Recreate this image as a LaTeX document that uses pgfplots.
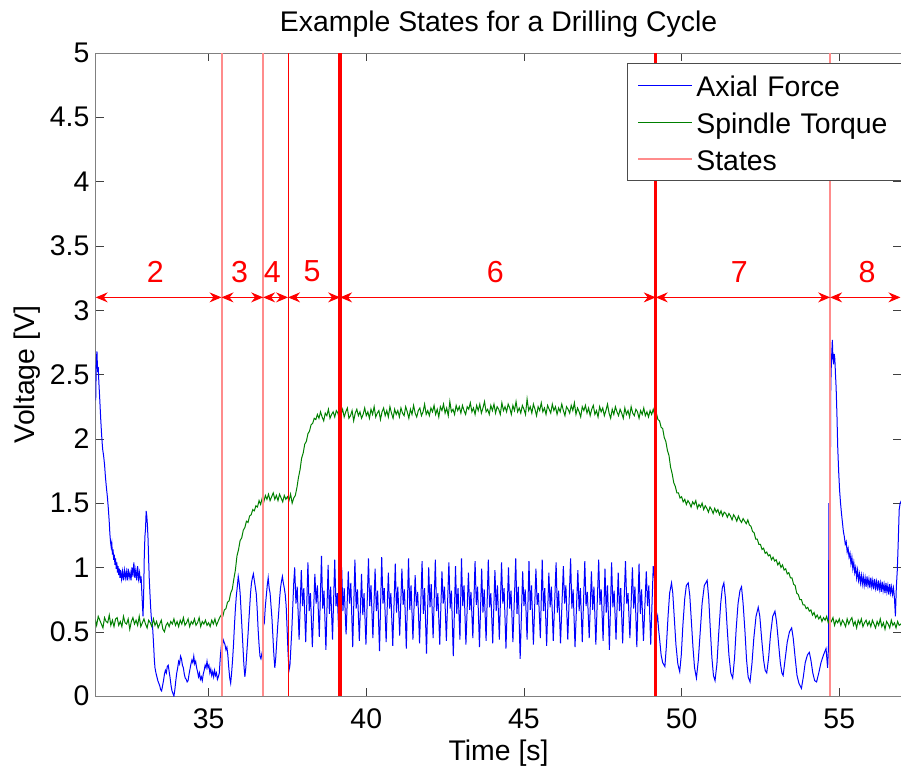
\documentclass[border=0pt]{standalone}
\usepackage{fontspec}
\setmainfont{Liberation Sans}
\usepackage{pgfplots}
\pgfplotsset{compat=1.18}
\usetikzlibrary{arrows.meta}
\definecolor{mgreen}{rgb}{0,0.5,0}
\definecolor{stpink}{rgb}{1,0.55,0.55}
\tikzset{myarr/.style={red, line width=0.5pt, {Stealth[length=6pt,width=5pt,inset=2pt]}-{Stealth[length=6pt,width=5pt,inset=2pt]}}}
\begin{document}
\begin{tikzpicture}[font=\fontsize{14.2}{17}\selectfont]
\path[use as bounding box] (-47.85pt,-36pt) rectangle (402.6pt,348pt);
\begin{axis}[
  scale only axis, width=402.8pt, height=321.5pt,
  xmin=31.42, xmax=56.97, ymin=0, ymax=5,
  xtick={35,40,45,50,55},
  ytick={0,0.5,1,1.5,2,2.5,3,3.5,4,4.5,5},
  tick align=inside, major tick length=4pt,
  axis line style={black!50}, tick style={black!75},
  /pgf/number format/assume math mode=true,
  tick label style={font=\fontsize{14.2}{17}\selectfont},
  xticklabel style={anchor=base, yshift=-16pt, inner sep=0pt},
  yticklabel style={anchor=east, inner sep=0pt, xshift=-3pt},
  title={Example States for a Drilling Cycle},
  title style={at={(axis description cs:0.5,1)}, anchor=base, yshift=4.7pt, inner sep=0pt},
  xlabel={Time [s]},
  xlabel style={at={(axis description cs:0.5,0)}, anchor=base, yshift=-32pt, inner sep=0pt},
  ylabel={Voltage [V]},
  ylabel style={at={(axis description cs:-0.085,0.5)}, anchor=center, inner sep=0pt},
  legend style={at={(rel axis cs:0.659,1)}, anchor=north west, yshift=-5.15pt,
    draw=black!70, fill=white, inner xsep=5.15pt, inner ysep=3.3pt, row sep=3pt,
    font=\fontsize{14.2}{17}\selectfont,
    nodes={inner ysep=0.5pt, inner xsep=1.5pt, text height=12.8pt, text depth=1.5pt, text width=112pt},
    cells={anchor=west}},
  legend image code/.code={\draw[#1] (0pt,0pt) -- (27pt,0pt);},
]
% Axial Force
\addplot[blue, line width=0.5pt] coordinates {
(31.42,2.30)(31.44,2.62)(31.46,2.68)(31.48,2.52)(31.50,2.56)(31.52,2.44)(31.55,2.30)(31.58,2.15)(31.61,2.02)(31.64,1.92)
(31.67,1.87)(31.70,1.80)(31.73,1.70)(31.76,1.62)(31.79,1.55)(31.82,1.46)(31.85,1.35)(31.87,1.26)(31.89,1.20)(31.91,1.16)
(31.93,1.19)(31.95,1.10)(31.97,1.14)(31.99,1.06)(32.01,1.10)(32.03,1.02)(32.05,1.07)(32.07,0.99)(32.09,1.04)(32.11,0.96)
(32.13,1.01)(32.15,0.94)(32.17,0.99)(32.19,0.92)(32.21,0.98)(32.24,0.91)(32.27,0.97)(32.30,0.90)(32.33,0.98)(32.36,0.92)
(32.39,0.97)(32.42,0.90)(32.45,0.99)(32.48,0.92)(32.51,0.96)(32.54,0.90)(32.57,1.00)(32.60,0.93)(32.63,1.04)(32.66,0.92)
(32.69,0.98)(32.72,0.90)(32.75,1.01)(32.78,0.91)(32.81,0.96)(32.84,0.88)(32.86,0.93)(32.88,0.82)(32.90,0.72)(32.92,0.62)
(32.94,0.78)(32.96,1.08)(32.98,1.24)(33.00,1.30)(33.02,1.44)(33.04,1.40)(33.06,1.33)(33.08,1.22)(33.10,1.05)(33.12,0.90)
(33.14,0.80)(33.16,0.70)(33.18,0.62)(33.20,0.58)(33.22,0.55)(33.24,0.47)(33.26,0.38)(33.28,0.28)(33.30,0.22)(33.33,0.18)
(33.36,0.15)(33.39,0.12)(33.42,0.10)(33.45,0.08)(33.48,0.05)(33.51,0.04)(33.54,0.08)(33.57,0.12)(33.60,0.17)(33.63,0.20)
(33.66,0.18)(33.69,0.23)(33.72,0.24)(33.75,0.19)(33.78,0.14)(33.81,0.08)(33.84,0.04)(33.87,0.02)(33.90,0.00)(33.93,0.05)
(33.96,0.12)(33.99,0.18)(34.02,0.22)(34.05,0.27)(34.08,0.25)(34.11,0.31)(34.14,0.29)(34.17,0.24)(34.20,0.22)(34.23,0.17)
(34.26,0.14)(34.29,0.13)(34.32,0.11)(34.35,0.12)(34.38,0.17)(34.41,0.21)(34.44,0.25)(34.47,0.28)(34.50,0.26)(34.53,0.31)
(34.56,0.25)(34.59,0.27)(34.62,0.22)(34.65,0.19)(34.68,0.15)(34.71,0.18)(34.74,0.13)(34.77,0.15)(34.80,0.12)(34.83,0.17)
(34.86,0.20)(34.89,0.24)(34.92,0.22)(34.95,0.27)(34.98,0.22)(35.01,0.24)(35.04,0.18)(35.07,0.21)(35.10,0.16)(35.13,0.19)
(35.16,0.15)(35.19,0.20)(35.22,0.16)(35.25,0.18)(35.28,0.13)(35.31,0.15)(35.34,0.18)(35.37,0.30)(35.40,0.38)(35.43,0.36)
(35.46,0.44)(35.49,0.42)(35.52,0.40)(35.55,0.36)(35.58,0.38)(35.61,0.32)(35.64,0.22)(35.67,0.14)(35.70,0.10)(35.73,0.18)
(35.76,0.28)(35.79,0.40)(35.82,0.55)(35.85,0.68)(35.88,0.78)(35.91,0.85)(35.94,0.93)(35.97,0.88)(36.00,0.80)(36.03,0.66)
(36.06,0.52)(36.09,0.38)(36.12,0.24)(36.15,0.15)(36.18,0.22)(36.21,0.33)(36.24,0.44)(36.27,0.56)(36.30,0.68)(36.33,0.80)
(36.36,0.88)(36.39,0.92)(36.42,0.95)(36.45,0.90)(36.48,0.85)(36.51,0.80)(36.54,0.68)(36.57,0.52)(36.60,0.40)(36.63,0.31)
(36.66,0.29)(36.69,0.33)(36.72,0.30)(36.74,0.62)(36.77,0.58)(36.80,0.70)(36.83,0.78)(36.86,0.86)(36.89,0.92)(36.92,0.84)
(36.95,0.80)(36.98,0.70)(37.01,0.60)(37.04,0.46)(37.07,0.32)(37.10,0.22)(37.13,0.30)(37.16,0.42)(37.19,0.54)(37.22,0.64)
(37.25,0.75)(37.28,0.84)(37.31,0.89)(37.34,0.93)(37.37,0.88)(37.40,0.84)(37.43,0.79)(37.46,0.70)(37.49,0.52)(37.52,0.33)
(37.55,0.20)(37.58,0.24)(37.61,0.38)(37.64,0.52)(37.67,0.70)(37.70,0.88)(37.73,1.00)(37.77,0.72)(37.81,0.85)(37.87,0.44)
(37.94,0.98)(37.98,0.70)(38.02,0.84)(38.08,0.42)(38.15,1.04)(38.19,0.66)(38.23,0.80)(38.29,0.38)
(38.37,0.95)(38.41,0.72)(38.45,0.86)(38.51,0.46)(38.58,1.09)(38.62,0.68)(38.66,0.82)(38.72,0.36)
(38.79,1.02)(38.83,0.64)(38.87,0.85)(38.93,0.44)(39.00,1.06)(39.04,0.70)(39.08,0.80)(39.14,0.40)
(39.22,1.00)(39.26,0.66)(39.30,0.84)(39.36,0.48)(39.43,0.97)(39.47,0.72)(39.51,0.88)(39.57,0.38)
(39.64,1.06)(39.68,0.68)(39.72,0.83)(39.78,0.43)(39.85,0.95)(39.89,0.63)(39.93,0.80)(39.99,0.40)
(40.07,1.07)(40.11,0.70)(40.15,0.86)(40.21,0.45)(40.28,0.99)(40.32,0.66)(40.36,0.82)(40.42,0.35)
(40.49,1.08)(40.53,0.72)(40.57,0.84)(40.63,0.42)(40.70,0.96)(40.74,0.68)(40.78,0.80)(40.84,0.39)
(40.92,1.03)(40.96,0.65)(41.00,0.85)(41.06,0.47)(41.13,0.99)(41.17,0.71)(41.21,0.83)(41.27,0.37)
(41.34,1.07)(41.38,0.67)(41.42,0.86)(41.48,0.44)(41.55,0.94)(41.59,0.70)(41.63,0.81)(41.69,0.41)
(41.77,1.05)(41.81,0.64)(41.85,0.84)(41.91,0.33)(41.98,1.00)(42.02,0.69)(42.06,0.87)(42.12,0.45)
(42.19,1.06)(42.23,0.66)(42.27,0.80)(42.33,0.40)(42.40,0.97)(42.44,0.72)(42.48,0.85)(42.54,0.43)
(42.62,1.04)(42.66,0.68)(42.70,0.82)(42.76,0.31)(42.83,1.01)(42.87,0.64)(42.91,0.84)(42.97,0.44)
(43.02,1.07)(43.06,0.70)(43.10,0.86)(43.16,0.40)(43.24,0.96)(43.28,0.67)(43.32,0.81)(43.38,0.45)
(43.45,1.05)(43.49,0.71)(43.53,0.85)(43.59,0.38)(43.66,0.99)(43.70,0.65)(43.74,0.83)(43.80,0.43)
(43.87,1.06)(43.91,0.69)(43.95,0.80)(44.01,0.41)(44.08,0.98)(44.12,0.66)(44.16,0.86)(44.22,0.44)
(44.29,1.04)(44.33,0.72)(44.37,0.84)(44.43,0.37)(44.51,1.00)(44.55,0.68)(44.59,0.82)(44.65,0.42)
(44.74,1.07)(44.78,0.64)(44.82,0.85)(44.88,0.29)(44.96,0.97)(45.00,0.70)(45.04,0.83)(45.10,0.44)
(45.16,1.05)(45.20,0.67)(45.24,0.86)(45.30,0.40)(45.38,0.99)(45.42,0.71)(45.46,0.80)(45.52,0.45)
(45.58,1.06)(45.62,0.66)(45.66,0.84)(45.72,0.39)(45.79,0.96)(45.83,0.69)(45.87,0.85)(45.93,0.43)
(46.02,1.04)(46.06,0.65)(46.10,0.82)(46.16,0.41)(46.25,1.01)(46.29,0.72)(46.33,0.86)(46.39,0.44)
(46.48,1.07)(46.52,0.68)(46.56,0.83)(46.62,0.38)(46.71,0.98)(46.75,0.66)(46.79,0.84)(46.85,0.42)
(46.93,1.05)(46.97,0.70)(47.01,0.81)(47.07,0.45)(47.14,0.97)(47.18,0.67)(47.22,0.85)(47.28,0.40)
(47.37,1.06)(47.41,0.71)(47.45,0.83)(47.51,0.43)(47.57,0.99)(47.61,0.65)(47.65,0.86)(47.71,0.36)
(47.78,1.04)(47.82,0.69)(47.86,0.82)(47.92,0.44)(47.99,0.96)(48.03,0.66)(48.07,0.84)(48.13,0.41)
(48.22,1.05)(48.26,0.72)(48.30,0.80)(48.36,0.45)(48.44,1.00)(48.48,0.68)(48.52,0.85)(48.58,0.38)
(48.65,1.03)(48.69,0.64)(48.73,0.83)(48.79,0.43)(48.88,0.97)(48.92,0.70)(48.96,0.86)(49.02,0.40)
(49.10,1.01)(49.14,0.92)(49.18,0.80)(49.21,0.58)(49.24,0.62)(49.27,0.52)(49.30,0.45)(49.35,0.32)
(49.40,0.26)(49.47,0.23)(49.52,0.40)(49.57,0.62)(49.62,0.80)(49.68,0.88)(49.72,0.80)(49.77,0.60)
(49.82,0.40)(49.88,0.25)(49.94,0.19)(49.99,0.32)(50.04,0.55)(50.10,0.76)(50.15,0.86)(50.21,0.88)
(50.26,0.78)(50.31,0.58)(50.36,0.38)(50.41,0.22)(50.47,0.14)(50.53,0.28)(50.59,0.50)(50.65,0.72)
(50.72,0.86)(50.81,0.90)(50.86,0.76)(50.91,0.52)(50.96,0.30)(51.01,0.16)(51.06,0.12)(51.12,0.25)
(51.18,0.50)(51.24,0.72)(51.29,0.84)(51.34,0.88)(51.39,0.76)(51.44,0.55)(51.50,0.32)(51.56,0.18)
(51.62,0.14)(51.68,0.30)(51.73,0.52)(51.79,0.72)(51.85,0.82)(51.90,0.85)(51.95,0.72)(52.01,0.50)
(52.06,0.28)(52.11,0.15)(52.17,0.11)(52.23,0.25)(52.29,0.45)(52.36,0.62)(52.43,0.69)(52.48,0.62)
(52.54,0.44)(52.60,0.28)(52.65,0.20)(52.70,0.18)(52.76,0.30)(52.82,0.48)(52.89,0.62)(52.96,0.66)
(53.01,0.58)(53.07,0.42)(53.13,0.26)(53.18,0.18)(53.22,0.16)(53.28,0.28)(53.35,0.42)(53.42,0.50)
(53.49,0.53)(53.54,0.45)(53.60,0.30)(53.66,0.16)(53.72,0.10)(53.80,0.06)(53.86,0.15)(53.92,0.26)
(53.99,0.32)(54.05,0.34)(54.10,0.28)(54.16,0.18)(54.22,0.12)(54.28,0.11)(54.35,0.18)(54.42,0.26)
(54.50,0.32)(54.58,0.37)(54.63,0.22)(54.66,0.40)(54.67,1.50)(54.69,0.90)(54.71,1.30)(54.73,2.41)
(54.75,2.60)(54.78,2.77)(54.80,2.62)(54.82,2.58)(54.84,2.66)(54.86,2.62)(54.88,2.50)(54.90,2.40)
(54.93,2.15)(54.95,1.94)(54.98,1.75)(55.01,1.60)(55.04,1.50)(55.07,1.42)(55.10,1.35)(55.13,1.28)
(55.16,1.24)(55.19,1.18)(55.22,1.20)(55.25,1.12)(55.28,1.15)(55.31,1.08)(55.34,1.11)(55.37,1.03)
(55.40,1.08)(55.43,0.99)(55.46,1.04)(55.49,0.96)(55.52,1.00)(55.55,0.92)(55.58,0.98)(55.61,0.90)
(55.64,0.95)(55.67,0.88)(55.70,0.94)(55.73,0.87)(55.76,0.93)(55.79,0.86)(55.82,0.92)(55.85,0.85)
(55.88,0.93)(55.91,0.86)(55.94,0.91)(55.97,0.84)(56.00,0.92)(56.03,0.85)(56.06,0.90)(56.09,0.83)
(56.12,0.91)(56.15,0.84)(56.18,0.89)(56.21,0.82)(56.24,0.90)(56.27,0.83)(56.30,0.88)(56.33,0.81)
(56.36,0.89)(56.39,0.82)(56.42,0.87)(56.45,0.80)(56.48,0.88)(56.51,0.81)(56.54,0.86)(56.57,0.79)
(56.60,0.87)(56.63,0.80)(56.66,0.85)(56.69,0.79)(56.72,0.84)(56.75,0.76)(56.78,0.62)(56.81,0.85)
(56.84,0.98)(56.87,1.20)(56.90,1.45)(56.93,1.50)(56.97,1.52)
};
\addlegendentry{Axial Force}
% Spindle Torque
\addplot[mgreen, line width=0.5pt] coordinates {
(31.40,0.60)(31.45,0.55)(31.50,0.62)(31.55,0.59)(31.60,0.56)(31.65,0.53)(31.70,0.61)(31.75,0.58)(31.80,0.57)(31.85,0.63)(31.90,0.55)(31.95,0.59)
(32.00,0.54)(32.05,0.60)(32.10,0.61)(32.15,0.55)(32.20,0.58)(32.25,0.54)(32.30,0.62)(32.35,0.57)(32.40,0.56)(32.45,0.60)
(32.50,0.52)(32.55,0.58)(32.60,0.61)(32.65,0.56)(32.70,0.59)(32.75,0.55)(32.80,0.62)(32.85,0.54)(32.90,0.57)(32.95,0.60)
(33.00,0.56)(33.05,0.53)(33.10,0.59)(33.15,0.57)(33.20,0.54)(33.25,0.60)(33.30,0.55)(33.35,0.58)(33.40,0.53)(33.45,0.56)
(33.50,0.59)(33.55,0.52)(33.60,0.50)(33.65,0.55)(33.70,0.57)(33.75,0.54)(33.80,0.58)(33.85,0.56)(33.90,0.60)(33.95,0.55)
(34.00,0.58)(34.05,0.54)(34.10,0.59)(34.15,0.56)(34.20,0.61)(34.25,0.55)(34.30,0.57)(34.35,0.60)(34.40,0.54)(34.45,0.58)
(34.50,0.56)(34.55,0.60)(34.60,0.55)(34.65,0.57)(34.70,0.61)(34.75,0.54)(34.80,0.58)(34.85,0.56)(34.90,0.59)(34.95,0.55)
(35.00,0.57)(35.05,0.54)(35.10,0.59)(35.15,0.56)(35.20,0.60)(35.25,0.55)(35.30,0.58)(35.35,0.61)(35.40,0.63)(35.45,0.62)
(35.50,0.67)(35.55,0.68)(35.60,0.73)(35.65,0.74)(35.70,0.80)(35.75,0.83)(35.80,0.91)(35.85,0.98)(35.90,1.09)(35.95,1.14)
(36.00,1.21)(36.05,1.23)(36.10,1.29)(36.15,1.31)(36.20,1.36)(36.25,1.35)(36.30,1.40)(36.35,1.41)(36.40,1.45)(36.45,1.44)
(36.50,1.48)(36.55,1.47)(36.60,1.52)(36.65,1.49)(36.70,1.54)(36.75,1.51)(36.80,1.56)(36.85,1.53)(36.90,1.57)(36.95,1.52)
(37.00,1.55)(37.05,1.58)(37.10,1.53)(37.15,1.56)(37.20,1.52)(37.25,1.57)(37.30,1.54)(37.35,1.51)(37.40,1.56)(37.45,1.53)
(37.50,1.55)(37.55,1.52)(37.60,1.57)(37.65,1.50)(37.70,1.54)(37.75,1.56)(37.80,1.62)(37.85,1.70)(37.90,1.76)(37.95,1.85)
(38.00,1.89)(38.05,1.96)(38.10,1.98)(38.15,2.04)(38.20,2.06)(38.25,2.11)(38.30,2.12)(38.35,2.16)(38.40,2.15)(38.45,2.19)
(38.50,2.16)(38.55,2.21)(38.60,2.17)(38.65,2.14)(38.70,2.20)(38.75,2.18)(38.80,2.23)(38.85,2.16)(38.90,2.19)(38.95,2.21)
(39.00,2.17)(39.05,2.22)(39.10,2.20)(39.15,2.15)(39.20,2.19)(39.25,2.23)(39.30,2.17)(39.35,2.21)(39.40,2.24)(39.45,2.16)
(39.50,2.18)(39.55,2.22)(39.60,2.14)(39.65,2.20)(39.70,2.23)(39.75,2.18)(39.80,2.21)(39.85,2.16)(39.90,2.19)(39.95,2.24)
(40.00,2.18)(40.05,2.21)(40.10,2.16)(40.15,2.23)(40.20,2.19)(40.25,2.25)(40.30,2.17)(40.35,2.20)(40.40,2.22)(40.45,2.15)
(40.50,2.21)(40.55,2.24)(40.60,2.18)(40.65,2.22)(40.70,2.17)(40.75,2.25)(40.80,2.20)(40.85,2.16)(40.90,2.23)(40.95,2.19)
(41.00,2.22)(41.05,2.17)(41.10,2.24)(41.15,2.20)(41.20,2.18)(41.25,2.25)(41.30,2.21)(41.35,2.16)(41.40,2.23)(41.45,2.19)
(41.50,2.26)(41.55,2.20)(41.60,2.17)(41.65,2.22)(41.70,2.24)(41.75,2.18)(41.80,2.21)(41.85,2.27)(41.90,2.19)(41.95,2.22)
(42.00,2.18)(42.05,2.24)(42.10,2.21)(42.15,2.26)(42.20,2.19)(42.25,2.23)(42.30,2.17)(42.35,2.25)(42.40,2.22)(42.45,2.27)
(42.50,2.20)(42.55,2.24)(42.60,2.18)(42.65,2.29)(42.70,2.21)(42.75,2.23)(42.80,2.19)(42.85,2.26)(42.90,2.22)(42.95,2.25)
(43.00,2.20)(43.05,2.26)(43.10,2.22)(43.15,2.19)(43.20,2.25)(43.25,2.23)(43.30,2.28)(43.35,2.21)(43.40,2.24)(43.45,2.19)
(43.50,2.26)(43.55,2.22)(43.60,2.27)(43.65,2.20)(43.70,2.24)(43.75,2.29)(43.80,2.21)(43.85,2.23)(43.90,2.19)(43.95,2.26)
(44.00,2.22)(44.05,2.27)(44.10,2.20)(44.15,2.25)(44.20,2.23)(44.25,2.19)(44.30,2.28)(44.35,2.22)(44.40,2.25)(44.45,2.21)
(44.50,2.27)(44.55,2.24)(44.60,2.19)(44.65,2.26)(44.70,2.22)(44.75,2.29)(44.80,2.21)(44.85,2.24)(44.90,2.20)(44.95,2.26)
(45.00,2.23)(45.05,2.19)(45.10,2.31)(45.15,2.22)(45.20,2.25)(45.25,2.20)(45.30,2.27)(45.35,2.23)(45.40,2.18)(45.45,2.25)
(45.50,2.22)(45.55,2.28)(45.60,2.21)(45.65,2.24)(45.70,2.19)(45.75,2.26)(45.80,2.23)(45.85,2.20)(45.90,2.27)(45.95,2.22)
(46.00,2.25)(46.05,2.19)(46.10,2.24)(46.15,2.21)(46.20,2.27)(46.25,2.22)(46.30,2.18)(46.35,2.25)(46.40,2.23)(46.45,2.20)
(46.50,2.26)(46.55,2.22)(46.60,2.28)(46.65,2.19)(46.70,2.24)(46.75,2.21)(46.80,2.17)(46.85,2.25)(46.90,2.22)(46.95,2.26)
(47.00,2.20)(47.05,2.24)(47.10,2.18)(47.15,2.23)(47.20,2.26)(47.25,2.19)(47.30,2.22)(47.35,2.17)(47.40,2.25)(47.45,2.21)
(47.50,2.24)(47.55,2.18)(47.60,2.22)(47.65,2.27)(47.70,2.20)(47.75,2.16)(47.80,2.23)(47.85,2.19)(47.90,2.25)(47.95,2.21)
(48.00,2.18)(48.05,2.23)(48.10,2.20)(48.15,2.16)(48.20,2.24)(48.25,2.19)(48.30,2.22)(48.35,2.17)(48.40,2.25)(48.45,2.20)
(48.50,2.18)(48.55,2.23)(48.60,2.21)(48.65,2.16)(48.70,2.22)(48.75,2.19)(48.80,2.24)(48.85,2.18)(48.90,2.21)(48.95,2.17)
(49.00,2.22)(49.05,2.19)(49.10,2.23)(49.15,2.18)(49.20,2.20)(49.25,2.15)(49.30,2.14)(49.35,2.09)(49.40,2.08)(49.45,2.01)
(49.50,1.98)(49.55,1.91)(49.60,1.87)(49.65,1.78)(49.70,1.73)(49.75,1.66)(49.80,1.63)(49.85,1.58)(49.90,1.58)(49.95,1.54)
(50.00,1.55)(50.05,1.51)(50.10,1.53)(50.15,1.49)(50.20,1.52)(50.25,1.50)(50.30,1.47)(50.35,1.51)(50.40,1.49)(50.45,1.52)
(50.50,1.46)(50.55,1.49)(50.60,1.47)(50.65,1.50)(50.70,1.45)(50.75,1.48)(50.80,1.46)(50.85,1.43)(50.90,1.47)(50.95,1.45)
(51.00,1.42)(51.05,1.46)(51.10,1.43)(51.15,1.45)(51.20,1.41)(51.25,1.44)(51.30,1.40)(51.35,1.43)(51.40,1.42)(51.45,1.39)
(51.50,1.42)(51.55,1.40)(51.60,1.37)(51.65,1.41)(51.70,1.39)(51.75,1.36)(51.80,1.40)(51.85,1.37)(51.90,1.35)(51.95,1.38)
(52.00,1.36)(52.05,1.34)(52.10,1.37)(52.15,1.33)(52.20,1.32)(52.25,1.28)(52.30,1.27)(52.35,1.22)(52.40,1.22)(52.45,1.18)
(52.50,1.18)(52.55,1.14)(52.60,1.15)(52.65,1.11)(52.70,1.12)(52.75,1.09)(52.80,1.10)(52.85,1.06)(52.90,1.08)(52.95,1.05)
(53.00,1.06)(53.05,1.02)(53.10,1.04)(53.15,1.00)(53.20,1.02)(53.25,0.98)(53.30,0.99)(53.35,0.95)(53.40,0.96)(53.45,0.92)
(53.50,0.92)(53.55,0.87)(53.60,0.86)(53.65,0.80)(53.70,0.79)(53.75,0.75)(53.80,0.75)(53.85,0.71)(53.90,0.71)(53.95,0.68)
(54.00,0.69)(54.05,0.66)(54.10,0.67)(54.15,0.63)(54.20,0.65)(54.25,0.61)(54.30,0.63)(54.35,0.60)(54.40,0.62)(54.45,0.58)
(54.50,0.61)(54.55,0.59)(54.60,0.62)(54.65,0.57)(54.70,0.60)(54.75,0.58)(54.80,0.61)(54.85,0.55)(54.90,0.59)(54.95,0.57)
(55.00,0.60)(55.05,0.55)(55.10,0.59)(55.15,0.57)(55.20,0.54)(55.25,0.60)(55.30,0.56)(55.35,0.59)(55.40,0.61)(55.45,0.55)
(55.50,0.58)(55.55,0.53)(55.60,0.59)(55.65,0.56)(55.70,0.60)(55.75,0.54)(55.80,0.57)(55.85,0.59)(55.90,0.55)(55.95,0.58)
(56.00,0.54)(56.05,0.59)(56.10,0.56)(56.15,0.53)(56.20,0.58)(56.25,0.55)(56.30,0.60)(56.35,0.54)(56.40,0.57)(56.45,0.52)
(56.50,0.58)(56.55,0.56)(56.60,0.53)(56.65,0.59)(56.70,0.55)(56.75,0.57)(56.80,0.53)(56.85,0.58)(56.90,0.55)(56.95,0.56)(57.00,0.54)
};
\addlegendentry{Spindle Torque}
% States
\addplot[stpink, line width=1pt] coordinates {(35.41,0) (35.41,5)};
\addlegendentry{States}
\addplot[stpink, line width=1pt, forget plot] coordinates {(36.73,0) (36.73,5)};
\addplot[red, line width=0.5pt, forget plot] coordinates {(37.52,0) (37.52,5)};
\addplot[red, line width=1.7pt, forget plot] coordinates {(39.17,0) (39.17,5)};
\addplot[red, line width=1.7pt, forget plot] coordinates {(49.18,0) (49.18,5)};
\addplot[stpink, line width=1pt, forget plot] coordinates {(54.71,0) (54.71,5)};
% arrows
\addplot[myarr, forget plot] coordinates {(31.42,3.1) (35.41,3.1)};
\addplot[myarr, forget plot] coordinates {(35.41,3.1) (36.73,3.1)};
\addplot[myarr, forget plot] coordinates {(36.73,3.1) (37.52,3.1)};
\addplot[myarr, forget plot] coordinates {(37.52,3.1) (39.17,3.1)};
\addplot[myarr, forget plot] coordinates {(39.17,3.1) (49.18,3.1)};
\addplot[myarr, forget plot] coordinates {(49.18,3.1) (54.71,3.1)};
\addplot[myarr, forget plot] coordinates {(54.71,3.1) (56.94,3.1)};
\node[red, font=\fontsize{15.2}{18}\selectfont] at (axis cs:33.31,3.30) {2};
\node[red, font=\fontsize{15.2}{18}\selectfont] at (axis cs:35.98,3.30) {3};
\node[red, font=\fontsize{15.2}{18}\selectfont] at (axis cs:37.02,3.30) {4};
\node[red, font=\fontsize{15.2}{18}\selectfont] at (axis cs:38.28,3.30) {5};
\node[red, font=\fontsize{15.2}{18}\selectfont] at (axis cs:44.09,3.30) {6};
\node[red, font=\fontsize{15.2}{18}\selectfont] at (axis cs:51.83,3.30) {7};
\node[red, font=\fontsize{15.2}{18}\selectfont] at (axis cs:55.88,3.30) {8};
\end{axis}
\end{tikzpicture}
\end{document}
